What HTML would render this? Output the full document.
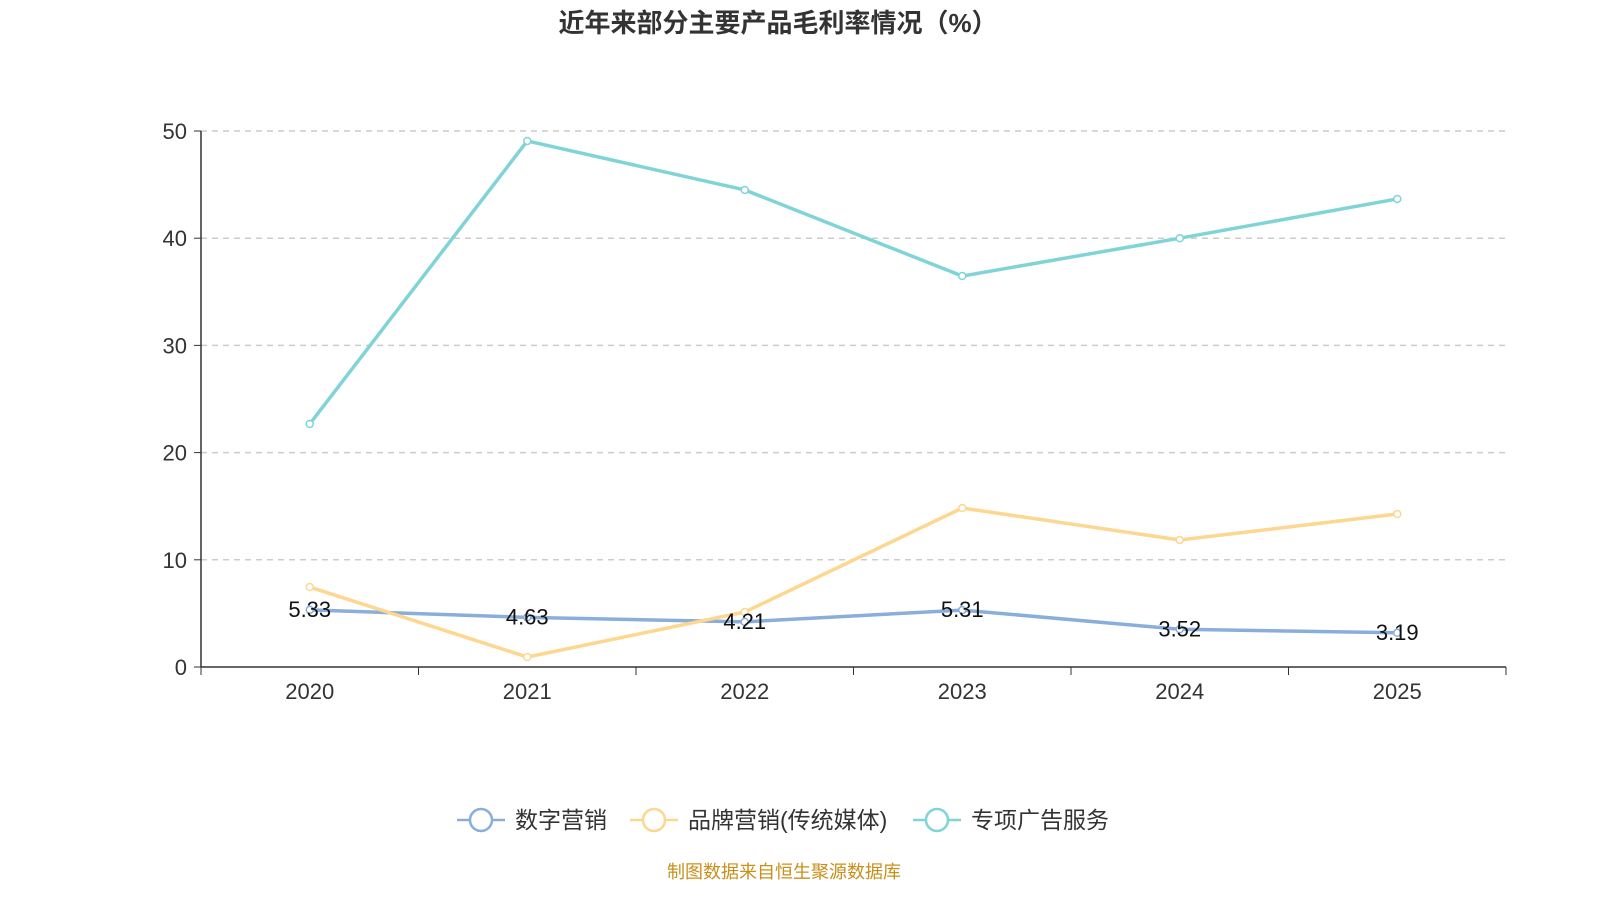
<!DOCTYPE html>
<html><head><meta charset="utf-8">
<style>
body{margin:0;background:#fff;width:1600px;height:900px;overflow:hidden;font-family:"Liberation Sans","Noto Sans CJK SC",sans-serif;}
</style></head>
<body>
<svg id="c" width="1600" height="900" style="font-family:'Liberation Sans','Noto Sans CJK SC',sans-serif">
<text x="778" y="32" text-anchor="middle" font-size="26" font-weight="bold" fill="#333">近年来部分主要产品毛利率情况（%）</text>
<g id="grid"></g><g id="axes"></g><g id="series"></g><g id="legend"></g>
<text x="784" y="878" text-anchor="middle" font-size="18" fill="#c8901a">制图数据来自恒生聚源数据库</text>
</svg>
<script>
const categories=["2020","2021","2022","2023","2024","2025"];
const digital=[5.33,4.63,4.21,5.31,3.52,3.19];
const brand=[7.46,0.93,5.13,14.83,11.85,14.27];
const special=[22.67,49.07,44.5,36.47,40.0,43.66];
const yTicks=[0,10,20,30,40,50];
const seriesNames=["数字营销","品牌营销(传统媒体)","专项广告服务"];
const colors=["#8aaedb","#fdd690","#80d4d8"];
const NS="http://www.w3.org/2000/svg";
const x0=201,x1=1506,y0=667,y1=131,band=(x1-x0)/categories.length;
const X=i=>x0+band*(i+0.5);
const Y=v=>y0-(v/50)*(y0-y1);
function mk(t,a,p){const e=document.createElementNS(NS,t);for(const k in a)e.setAttribute(k,a[k]);p.appendChild(e);return e;}
const grid=document.getElementById('grid'),axes=document.getElementById('axes'),ser=document.getElementById('series'),leg=document.getElementById('legend');
yTicks.forEach(v=>{
 if(v>0){const l=mk('line',{x1:x0,x2:x1,y1:Y(v),y2:Y(v),stroke:'#ccc','stroke-dasharray':'6,5','stroke-width':1.5},grid);
 
 }
 mk('line',{x1:x0-7,x2:x0,y1:Y(v),y2:Y(v),stroke:'#333'},axes);
 const t=mk('text',{x:x0-14,y:Y(v)+8,'text-anchor':'end','font-size':22,fill:'#333'},axes);t.textContent=v;
 
 
});
mk('line',{x1:x0,x2:x0,y1:y1,y2:y0,stroke:'#333','stroke-width':1.5},axes);
mk('line',{x1:x0,x2:x1,y1:y0,y2:y0,stroke:'#333','stroke-width':1.5},axes);
for(let i=0;i<=categories.length;i++)mk('line',{x1:x0+band*i,x2:x0+band*i,y1:y0,y2:y0+8,stroke:'#333'},axes);
categories.forEach((c,i)=>{const t=mk('text',{x:X(i),y:699,'text-anchor':'middle','font-size':22,fill:'#333'},axes);t.textContent=c;
 
 });
[digital,brand,special].forEach((d,s)=>{
 const p=mk('polyline',{points:d.map((v,i)=>X(i)+','+Y(v)).join(' '),fill:'none',stroke:colors[s],'stroke-width':3.5},ser);
 
 
 d.forEach((v,i)=>{const c=mk('circle',{cx:X(i),cy:Y(v),r:3.5,fill:'#fff',stroke:colors[s],'stroke-width':1.5},ser);
  
  });
});
digital.forEach((v,i)=>{const t=mk('text',{x:X(i),y:Y(v)+7,'text-anchor':'middle','font-size':22,fill:'#111'},ser);t.textContent=v.toFixed(2);
 
 });
const lx=[457,630,913];
seriesNames.forEach((n,s)=>{
 const g=mk('g',{},leg);
 
 
 mk('line',{x1:lx[s],x2:lx[s]+48,y1:820,y2:820,stroke:colors[s],'stroke-width':2.5},g);
 mk('circle',{cx:lx[s]+24,cy:820,r:11,fill:'#fff',stroke:colors[s],'stroke-width':2.5},g);
 const t=mk('text',{x:lx[s]+58,y:828,'font-size':23,fill:'#333'},g);t.textContent=n;
});
</script>
</body></html>
